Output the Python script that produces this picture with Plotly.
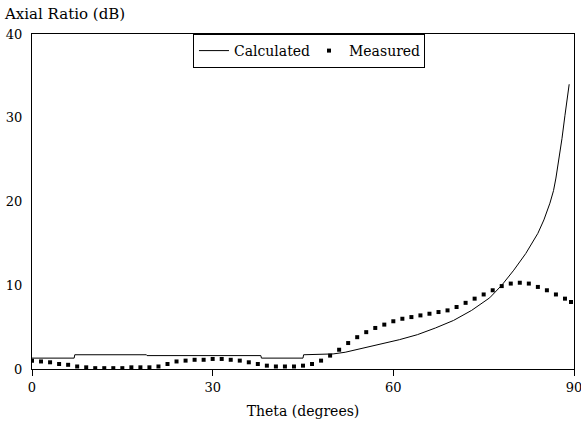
import plotly.graph_objects as go

# Calculated axial ratio (dB) vs theta (degrees)
calc_theta = [0, 7, 7.1, 19, 19.1, 38, 38.1, 45, 45.1, 50, 52, 55, 58, 61, 64, 67,
              70, 73, 76, 78, 80, 82, 84, 85, 86, 86.6, 87, 87.5, 88, 88.5, 89, 89.2]
calc_ar = [1.3, 1.3, 1.7, 1.7, 1.6, 1.6, 1.3, 1.3, 1.7, 1.8, 2.0, 2.5, 3.0, 3.5, 4.1, 4.9,
           5.8, 7.0, 8.5, 10.0, 11.8, 13.8, 16.2, 17.8, 19.8, 21.3, 22.8, 25.0, 27.5, 30.3, 33.0, 34.0]

# Measured axial ratio (dB)
meas_theta = [0, 1.5, 3, 4.5, 6, 7.5, 9, 10.5, 12, 13.5, 15, 16.5, 18, 19.5, 21, 22.5,
              24, 25.5, 27, 28.5, 30, 31.5, 33, 34.5, 36, 37.5, 39, 40.5, 42, 43.5, 45,
              46.5, 48, 49.5, 51, 52.5, 54, 55.5, 57, 58.5, 60, 61.5, 63, 64.5, 66, 67.5,
              69, 70.5, 72, 73.5, 75, 76.5, 78, 79.5, 81, 82.5, 84, 85.5, 87, 88.5, 89.5]
meas_ar = [1.0, 0.9, 0.8, 0.6, 0.5, 0.3, 0.2, 0.1, 0.1, 0.1, 0.1, 0.2, 0.2, 0.2, 0.3, 0.6,
           0.9, 1.0, 1.1, 1.1, 1.2, 1.2, 1.1, 1.0, 0.8, 0.6, 0.4, 0.3, 0.3, 0.3, 0.4,
           0.6, 1.0, 1.6, 2.3, 3.1, 3.8, 4.4, 4.9, 5.3, 5.7, 6.0, 6.2, 6.4, 6.6, 6.8,
           7.0, 7.4, 7.9, 8.4, 8.9, 9.4, 9.9, 10.2, 10.3, 10.2, 9.8, 9.4, 8.9, 8.4, 8.0]

x_ticks = [0, 30, 60, 90]
y_ticks = [0, 10, 20, 30, 40]

FONT = "DejaVu Serif"

fig = go.Figure()
fig.add_trace(go.Scatter(x=calc_theta, y=calc_ar, mode="lines", name="Calculated",
                         line=dict(color="black", width=1)))
fig.add_trace(go.Scatter(x=meas_theta, y=meas_ar, mode="markers", name="Measured",
                         marker=dict(color="black", size=4, symbol="square")))

fig.update_layout(
    width=581, height=430,
    margin=dict(l=32, r=7, t=34, b=61),
    paper_bgcolor="white", plot_bgcolor="white",
    font=dict(family=FONT, size=13, color="black"),
    legend=dict(orientation="h", x=0.297, y=1, xanchor="left", yanchor="top",
                bordercolor="black", borderwidth=1, bgcolor="white",
                font=dict(family=FONT, size=14), entrywidth=70),
    xaxis=dict(range=[0, 90], tickvals=x_ticks, showgrid=False, zeroline=False,
               showline=True, linecolor="black", linewidth=1, mirror=True,
               ticks="outside", ticklen=6, tickcolor="black", automargin=False,
               ticklabeloverflow="allow",
               title=dict(text="Theta (degrees)", standoff=12,
                          font=dict(family=FONT, size=14))),
    yaxis=dict(range=[0, 40], tickvals=y_ticks, showgrid=False, zeroline=False,
               showline=True, linecolor="black", linewidth=1, mirror=True,
               ticks="", ticklabelstandoff=6, automargin=False,
               ticklabeloverflow="allow"),
    annotations=[dict(text="Axial Ratio (dB)", xref="paper", yref="paper",
                      x=-0.055, y=1.06, xanchor="left", yanchor="middle",
                      showarrow=False, font=dict(family=FONT, size=15))],
)

fig.write_html("out.html", config={"displayModeBar": False},
               post_script="document.body.style.margin='0';")
